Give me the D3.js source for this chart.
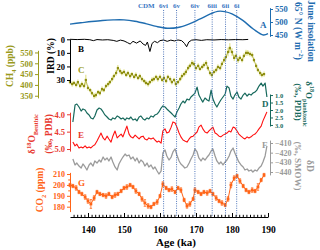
<!DOCTYPE html>
<html>
<head>
<meta charset="utf-8">
<script src="https://cdn.jsdelivr.net/npm/d3@7"></script>
<style>
  body { margin: 0; background: #fff; }
  svg { display: block; font-family: "Liberation Serif", "Times New Roman", serif; font-weight: bold; }
</style>
</head>
<body>
<svg id="chart" width="320" height="250"></svg>
<script>
// A: June insolation 65N (W m-2)
const insAge = [135,138,141,144,147,150,153,156,159,162,165,168,171,174,176,178,180,183,186,188.7,190];
const insWm2 = [492,497,502,506,508,508,503,494,483,476,479,492,511,531,541,540,531,506,472,450,455];

// B: IRD (%)
const irdAge = [135,137,139,140.5,141.5,142.5,144,145.5,147,148,149,150,151,151.7,152.5,153.5,154.5,155.3,156,156.5,
  157.2,157.8,158.5,159.3,160,161,162,163,164,165,166,166.8,167.4,168,168.8,170,171.5,173,175,177,179,181,183,184.5];
const irdPct = [0,0.2,0,0.3,1,0.2,0.5,0.3,0.8,1.5,0.6,1.2,2.5,3.5,1.5,2.8,1.2,3.5,4.5,2,
  9,3,1.5,2.5,1,0.5,1.5,0.6,1.2,0.5,1,3,5.5,2,0.6,0.3,0.8,0.3,0.5,0.2,0.4,0.2,0.3,0.1];

// C: CH4 (ppb) with errors
const chAge = [135.0,135.6,136.1,136.7,137.2,137.8,138.3,138.9,139.4,140.0,140.6,141.1,141.7,142.2,142.8,143.3,143.9,144.4,145.0,145.6,
  146.1,146.7,147.2,147.8,148.3,148.9,149.4,150.0,150.6,151.1,151.7,152.2,152.8,153.3,153.9,154.4,155.0,155.6,156.1,156.7,
  157.2,157.8,158.3,158.9,159.4,160.0,160.6,161.1,161.7,162.2,162.8,163.3,163.9,164.4,165.0,165.6,166.1,166.7,167.2,167.8,
  168.3,168.9,169.4,170.0,170.6,171.1,171.7,172.2,172.8,173.3,173.9,174.4,175.0,175.6,176.1,176.7,177.2,177.8,178.3,178.9,
  179.4,180.0,180.6,181.1,181.7,182.2,182.8,183.3,183.9,184.4,185.0,185.6,186.1,186.7,187.2,187.8,188.3,188.9];
const chPpb = [413,404,409,400,413,395,404,395,423,386,376,362,349,353,367,362,381,376,395,404,
  413,427,441,455,478,464,455,460,446,455,441,450,437,446,432,441,427,418,409,404,
  413,423,427,437,427,437,423,432,418,437,427,413,423,404,413,427,441,450,460,478,
  488,501,497,478,488,474,483,492,501,478,455,446,460,469,483,478,497,515,529,552,
  571,552,525,534,515,525,515,534,548,548,543,538,515,488,469,455,446,450];
const chErr = [10,12,10,11,12,10,12,11,24,12,10,11,13,12,10,11,12,10,11,12,
  10,12,11,13,14,12,11,12,10,11,12,10,11,12,10,11,12,10,11,12,
  10,12,11,10,12,11,10,12,11,10,12,11,10,12,11,10,12,11,13,12,
  11,14,12,11,12,10,11,12,13,12,11,10,12,11,12,11,13,14,16,20,
  22,18,14,12,13,12,11,12,14,13,12,12,11,12,11,12,11,12];

// D, E, F: sample ages shared by the core records
const coreAge = [135.8,136.4,136.9,137.5,138.1,138.6,139.2,139.7,140.3,140.8,141.4,141.9,142.5,143.1,143.6,144.2,144.7,145.3,145.8,146.4,
  146.9,147.5,148.1,148.6,149.2,149.7,150.3,150.8,151.4,151.9,152.5,153.1,153.6,154.2,154.7,155.3,155.8,156.4,156.9,157.5,
  158.1,158.6,159.2,159.7,160.3,160.8,161.4,161.9,162.5,163.1,163.6,164.2,164.7,165.3,165.8,166.4,166.9,167.5,168.1,168.6,
  169.2,169.7,170.3,170.8,171.4,171.9,172.5,173.1,173.6,174.2,174.7,175.3,175.8,176.4,176.9,177.5,178.1,178.6,179.2,179.7,
  180.3,180.8,181.4,181.9,182.5,183.1,183.6,184.2,184.7,185.3,185.8,186.4,186.9,187.5,188.1,188.6,189.2,189.7];
// D: d18O planktonic (permil PDB)
const plankD18O = [2.8,1.67,1.6,1.8,2.07,1.93,2.0,2.2,2.33,2.53,2.6,2.4,2.0,1.87,1.93,2.13,2.33,2.47,2.6,2.67,
  2.53,2.6,2.4,2.47,2.6,2.53,2.67,2.53,2.6,2.47,2.67,2.6,2.73,2.47,2.4,2.6,2.67,2.53,2.6,2.4,
  2.47,2.33,2.27,2.13,1.87,1.73,1.8,1.93,2.07,2.2,2.33,2.47,2.13,1.87,1.6,1.4,1.53,1.27,1.33,1.13,
  1.0,0.87,0.47,1.0,1.27,1.47,1.2,1.33,1.4,0.67,1.27,1.6,1.8,1.53,1.33,1.13,0.93,0.4,0.53,1.07,
  1.27,1.0,0.8,1.13,1.27,1.0,0.87,1.07,0.93,1.0,0.87,0.8,0.67,0.4,0.2,0.4,0.2,1.13];
// E: d18O benthic (permil PDB)
const benthD18O = [4.80,4.91,4.86,4.97,4.94,4.97,4.91,4.97,4.94,4.97,4.91,4.88,4.77,4.65,4.54,4.68,4.74,4.63,4.71,4.80,
  4.63,4.48,4.68,4.63,4.57,4.65,4.48,4.34,4.57,4.65,4.68,4.60,4.65,4.71,4.65,4.63,4.71,4.74,4.68,4.71,
  4.68,4.74,4.80,4.77,4.83,4.48,4.42,4.54,4.51,4.37,4.22,4.25,4.37,4.54,4.65,4.74,4.77,4.80,4.71,4.65,
  4.63,4.57,4.51,4.37,4.31,4.42,4.51,4.54,4.48,4.42,4.37,4.54,4.57,4.63,4.65,4.60,4.57,4.54,4.48,4.51,
  4.37,4.39,4.48,4.57,4.63,4.68,4.71,4.65,4.68,4.65,4.60,4.57,4.51,4.42,4.34,4.19,4.05,3.93];
// F: dD (permil SMOW)
const deltaD = [-426.5,-432.7,-430.7,-433.8,-435.9,-431.7,-434.8,-437.9,-432.7,-430.7,-433.8,-428.6,-430.7,-427.6,-429.6,-424.5,-427.6,-425.5,-428.6,-424.5,
  -429.6,-434.8,-437.9,-431.7,-427.6,-424.5,-421.4,-423.4,-422.4,-426.5,-424.5,-428.6,-425.5,-430.7,-427.6,-429.6,-433.8,-430.7,-434.8,-432.7,
  -436.9,-434.8,-439.0,-442.1,-439.0,-420.3,-417.2,-423.4,-427.6,-424.5,-419.3,-416.2,-422.4,-428.6,-431.7,-433.8,-435.9,-434.8,-430.7,-426.5,
  -422.4,-416.2,-419.3,-425.5,-428.6,-425.5,-427.6,-424.5,-422.4,-418.3,-416.2,-423.4,-428.6,-431.7,-429.6,-432.7,-429.6,-427.6,-423.4,-418.3,
  -415.2,-420.3,-425.5,-429.6,-432.7,-434.8,-437.9,-436.9,-439.0,-437.9,-440.0,-437.9,-439.0,-435.9,-433.8,-429.6,-423.4,-413.1];

// G: CO2 (ppm) with errors
const coAge = [135.0,135.8,136.7,137.5,138.3,139.2,140.0,140.8,141.7,142.5,143.3,144.2,145.0,145.8,146.7,147.5,148.3,149.2,150.0,150.8,
  151.7,152.5,153.3,154.2,155.0,155.8,156.7,157.5,158.3,159.2,160.0,160.8,161.7,162.5,163.3,164.2,165.0,165.8,166.7,167.5,
  168.3,169.2,169.7,170.6,171.4,172.2,173.1,173.9,174.7,175.6,176.4,177.2,178.1,178.9,179.7,180.6,181.4,182.2,183.1,183.9,
  184.7,185.6,186.4,187.2,188.1,188.9];
const coPpm = [199.9,199.0,197.2,193.5,191.7,188.9,185.2,182.5,188.0,193.5,191.7,190.7,189.8,191.7,188.9,190.7,191.7,194.4,197.2,198.1,
  199.9,198.1,194.4,191.7,187.1,183.4,180.7,179.7,182.5,184.3,189.8,200.8,197.2,195.3,196.2,193.5,197.2,195.3,186.2,180.7,
  182.5,187.1,195.3,193.5,191.7,193.5,192.6,194.4,191.7,188.0,185.2,183.4,181.6,187.1,199.9,206.3,208.2,203.6,199.0,195.3,
  193.5,195.3,194.4,198.1,204.5,209.1];
const coErr = [1.5,1.5,2,1.5,1.5,2,2,4,2,1.5,1.5,1.5,2,1.5,1.5,2,1.5,1.5,1.5,2,
  1.5,1.5,2,1.5,2,3,2,1.5,1.5,2,1.5,2,1.5,1.5,2,1.5,1.5,2,1.5,2,
  2,1.5,2,1.5,1.5,1.5,2,1.5,1.5,2,1.5,2,1.5,2,2.5,2,1.5,2,1.5,1.5,
  1.5,2,1.5,3,1.5,1.5];

// CDM events
const cdmAge = [161.0,164.6,169.7,174.5,178.2,181.3];
const cdmName = ["6vi","6v","6iv","6iii","6ii","6i"];

const ageTicks = [140,150,160,170,180,190];

const svg = d3.select("#chart");
const serif = '"Liberation Serif","Times New Roman",serif';

const x = d3.scaleLinear().domain([135, 190]).range([70, 268]);
const yA = d3.scaleLinear().domain([445, 555]).range([36.3, 7.7]);
const yB = d3.scaleLinear().domain([0, 32]).range([39.3, 82.7]);
const yC = d3.scaleLinear().domain([340, 560]).range([97.9, 50.3]);
const yD = d3.scaleLinear().domain([0.93, 3.07]).range([94, 126]);
const yE = d3.scaleLinear().domain([3.94, 5.06]).range([112.2, 151.1]);
const yF = d3.scaleLinear().domain([-443, -407]).range([174.9, 140.1]);
const yG = d3.scaleLinear().domain([175.5, 211.5]).range([211.6, 172.4]);

const col = {
  A: "#1f6db0", B: "#000", C: "#9a9a1c", D: "#17695c",
  E: "#ff1010", Etext: "#e83a30", F: "#9b9b9b", G: "#ff6417", cdm: "#3b78c4"
};

function zip(a, b) { return a.map((d, i) => [d, b[i]]); }

function drawLine(ages, vals, y, color, w, curve) {
  svg.append("path")
    .datum(zip(ages, vals))
    .attr("fill", "none")
    .attr("stroke", color)
    .attr("stroke-width", w)
    .attr("stroke-linejoin", "round")
    .attr("d", d3.line()
      .x(d => x(d[0]))
      .y(d => y(d[1]))
      .curve(curve || d3.curveLinear));
}

// A insolation
drawLine(insAge, insWm2, yA, col.A, 1.4, d3.curveCatmullRom);
// B IRD
drawLine(irdAge, irdPct, yB, col.B, 1, d3.curveLinear);

// C CH4: error bars, line, markers
const chG = svg.append("g");
chG.selectAll("line").data(zip(chAge, chPpb)).join("line")
  .attr("x1", d => x(d[0])).attr("x2", d => x(d[0]))
  .attr("y1", (d, i) => yC(d[1] - chErr[i]))
  .attr("y2", (d, i) => yC(d[1] + chErr[i]))
  .attr("stroke", "#d9d96a").attr("stroke-width", 0.9);
drawLine(chAge, chPpb, yC, "#a9a930", 0.8);
svg.append("g").selectAll("rect").data(zip(chAge, chPpb)).join("rect")
  .attr("x", d => x(d[0]) - 1.1).attr("y", d => yC(d[1]) - 1.1)
  .attr("width", 2.2).attr("height", 2.2)
  .attr("fill", "#8e8e12");

// D, E, F
drawLine(coreAge, plankD18O, yD, col.D, 1.2);
drawLine(coreAge, benthD18O, yE, col.E, 1.1);
drawLine(coreAge, deltaD, yF, col.F, 1.3);

// G CO2
const coG = svg.append("g").attr("stroke", col.G).attr("stroke-width", 0.8);
const coPts = zip(coAge, coPpm);
coG.selectAll("line.bar").data(coPts).join("line").attr("class", "bar")
  .attr("x1", d => x(d[0])).attr("x2", d => x(d[0]))
  .attr("y1", (d, i) => yG(d[1] - coErr[i])).attr("y2", (d, i) => yG(d[1] + coErr[i]));
coG.selectAll("line.capT").data(coPts).join("line").attr("class", "capT")
  .attr("x1", d => x(d[0]) - 1.2).attr("x2", d => x(d[0]) + 1.2)
  .attr("y1", (d, i) => yG(d[1] + coErr[i])).attr("y2", (d, i) => yG(d[1] + coErr[i]));
coG.selectAll("line.capB").data(coPts).join("line").attr("class", "capB")
  .attr("x1", d => x(d[0]) - 1.2).attr("x2", d => x(d[0]) + 1.2)
  .attr("y1", (d, i) => yG(d[1] - coErr[i])).attr("y2", (d, i) => yG(d[1] - coErr[i]));
drawLine(coAge, coPpm, yG, col.G, 1);
svg.append("g").selectAll("rect").data(coPts).join("rect")
  .attr("x", d => x(d[0]) - 1.4).attr("y", d => yG(d[1]) - 1.4)
  .attr("width", 2.8).attr("height", 2.8)
  .attr("fill", col.G);

// CDM dotted lines and labels
svg.append("g").selectAll("line").data(cdmAge).join("line")
  .attr("x1", d => x(d)).attr("x2", d => x(d))
  .attr("y1", 10).attr("y2", 216)
  .attr("stroke", "#3d68b3").attr("stroke-width", 0.9)
  .attr("stroke-dasharray", "1,1.3");
svg.append("g").selectAll("text").data(cdmAge).join("text")
  .attr("x", d => x(d)).attr("y", 8)
  .attr("text-anchor", "middle")
  .attr("fill", col.cdm).style("font-size", "7px")
  .text((d, i) => cdmName[i]);
svg.append("text")
  .attr("x", x(cdmAge[0]) - 9).attr("y", 8)
  .attr("text-anchor", "end")
  .attr("fill", col.cdm).style("font-size", "7px")
  .text("CDM");

// axes
function yAxis(scale, side, xPos, ticks, color, fmt, size) {
  const ax = (side === "left" ? d3.axisLeft(scale) : d3.axisRight(scale))
    .tickValues(ticks).tickSizeInner(3).tickSizeOuter(0).tickPadding(2)
    .tickFormat(fmt);
  const g = svg.append("g")
    .attr("transform", `translate(${xPos},0)`)
    .call(ax)
    .attr("font-family", serif).attr("font-size", size || 8.5);
  g.selectAll("path, line").attr("stroke", color).attr("stroke-width", 1);
  g.selectAll("text").attr("fill", color);
  return g;
}
const fInt = d3.format("d");
const f1 = d3.format(".1f");
yAxis(yA, "right", 270, [450, 500, 550], col.A, fInt);
yAxis(yB, "left", 70, [0, 10, 20, 30], col.B, fInt);
yAxis(yC, "left", 38, [350, 400, 450, 500, 550], col.C, fInt);
yAxis(yD, "right", 270, [1.0, 1.5, 2.0, 2.5, 3.0], col.D, f1, 6.5);
yAxis(yE, "left", 70, [4.0, 4.5, 5.0], col.Etext, f1);
yAxis(yF, "right", 270, [-440, -430, -420, -410], col.F, fInt, 8);
yAxis(yG, "left", 70, [180, 190, 200, 210], col.G, fInt, 8);
svg.append("g").attr("transform", "translate(70,0)")
  .call(d3.axisLeft(yG).tickValues([185, 195, 205]).tickSize(1.8).tickFormat(""))
  .call(g => g.select(".domain").remove())
  .selectAll("line").attr("stroke", col.G);

// age axis
const xg = svg.append("g").attr("transform", "translate(0,217)")
  .call(d3.axisBottom(x).tickValues(ageTicks).tickSizeInner(-4).tickSizeOuter(0).tickPadding(9).tickFormat(fInt))
  .attr("font-family", serif).attr("font-size", 9.5);
xg.selectAll("path, line").attr("stroke", "#000");
svg.append("g").attr("transform", "translate(0,217)")
  .call(d3.axisBottom(x).tickValues(d3.range(136, 190, 1).filter(v => v % 10 !== 0)).tickSize(-2.2).tickFormat(""))
  .call(g => g.select(".domain").remove())
  .selectAll("line").attr("stroke", "#000");
svg.append("text").attr("x", 176).attr("y", 246).attr("text-anchor", "middle")
  .style("font-size", "11px").text("Age (ka)");

// rotated titles with sub/superscripts
function rotText(tx, ty, rot, color, parts, size) {
  const t = svg.append("text")
    .attr("transform", `translate(${tx},${ty}) rotate(${rot})`)
    .attr("text-anchor", "middle")
    .attr("fill", color)
    .style("font-size", size + "px");
  let shift = 0;
  parts.forEach(([s, kind]) => {
    const target = kind === "sub" ? size * 0.3 : kind === "sup" ? -size * 0.4 : 0;
    t.append("tspan")
      .attr("dy", target - shift)
      .style("font-size", (kind === "n" ? size : size * 0.68) + "px")
      .text(s);
    shift = target;
  });
}
rotText(13, 66, -90, col.C, [["CH", "n"], ["4", "sub"], [" (ppb)", "n"]], 9.5);
rotText(53.5, 56, -90, col.B, [["IRD (%)", "n"]], 9.5);
rotText(35, 134, -90, col.Etext, [["δ", "n"], ["18", "sup"], ["O", "n"], ["Benthic", "sub"]], 9.5);
rotText(52, 134, -90, col.Etext, [["(‰, PDB)", "n"]], 9.5);
rotText(43, 190, -90, col.G, [["CO", "n"], ["2", "sub"], [" (ppm)", "n"]], 9.5);

rotText(308, 31, 90, col.A, [["June insolation", "n"]], 9.5);
rotText(295, 31, 90, col.A, [["65° N (W m", "n"], ["−2", "sup"], [")", "n"]], 9.5);
rotText(306, 104, 90, col.D, [["δ", "n"], ["18", "sup"], ["O", "n"], ["planktonic", "sub"]], 9);
rotText(295, 102, 90, col.D, [["(‰, PDB)", "n"]], 9);
rotText(307, 166, 90, col.F, [["δD", "n"]], 9.5);
rotText(295, 166, 90, col.F, [["(‰, SMOW)", "n"]], 9);

// panel letters
const letters = [
  ["A", 260, 28, col.A], ["B", 78, 52, col.B], ["C", 78, 73, col.C],
  ["D", 262, 107, col.D], ["E", 78, 138, col.Etext], ["F", 262, 148, col.F],
  ["G", 78, 186, col.G]
];
svg.append("g").selectAll("text").data(letters).join("text")
  .attr("x", d => d[1]).attr("y", d => d[2])
  .attr("fill", d => d[3])
  .style("font-size", "9px")
  .text(d => d[0]);
</script>
</body>
</html>
